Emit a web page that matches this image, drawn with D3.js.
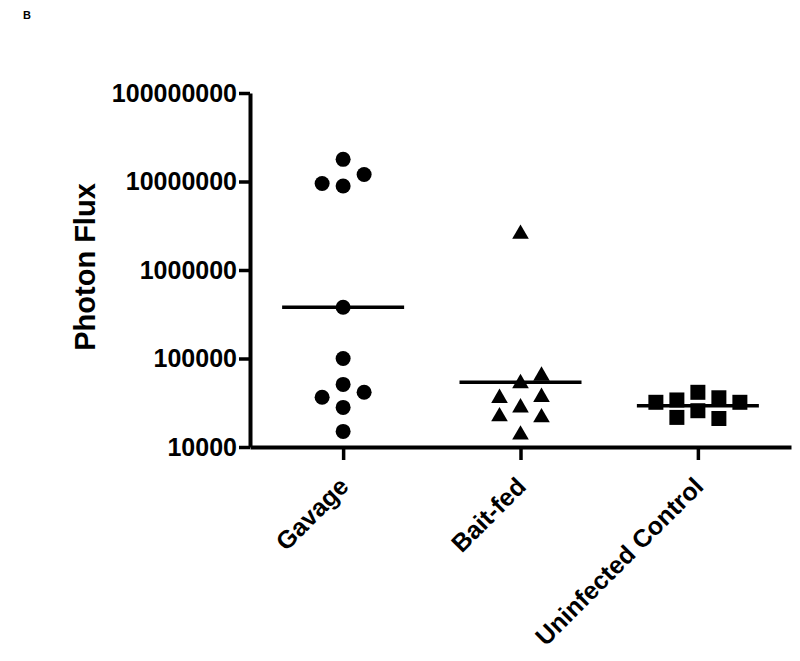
<!DOCTYPE html>
<html>
<head>
<meta charset="utf-8">
<script src="https://cdn.jsdelivr.net/npm/d3@7"></script>
<style>
  body { margin: 0; background: #fff; }
  svg { display: block; font-family: "Liberation Sans", Arial, sans-serif; font-weight: bold; }
</style>
</head>
<body>
<div id="chart"></div>
<script>
// groups on the x axis
const groups = ["Gavage", "Bait-fed", "Uninfected Control"];
const symbols = ["circle", "triangle", "square"];

// photon flux per animal
const gavage = [1.78e7, 1.2e7, 8.9e6, 9.5e6, 3.8e5, 1.0e5, 5.1e4, 4.15e4, 3.65e4, 2.8e4, 1.5e4];
const baitFed = [2.65e6, 5.45e4, 6.6e4, 3.8e4, 3.7e4, 2.9e4, 2.24e4, 2.3e4, 1.43e4];
const uninfected = [4.15e4, 3.6e4, 3.4e4, 3.2e4, 3.2e4, 2.57e4, 2.1e4, 2.16e4];

// horizontal line drawn through each group (geometric mean)
const centerLine = [3.8e5, 5.4e4, 2.93e4];

const yTicks = [1e4, 1e5, 1e6, 1e7, 1e8];

const series = [gavage, baitFed, uninfected];

const width = 800, height = 661;

const svg = d3.select("#chart")
  .append("svg")
  .attr("width", width)
  .attr("height", height);

const x = d3.scalePoint()
  .domain(groups)
  .range([250, 791])
  .padding(0.525);

const y = d3.scaleLog()
  .domain([1e4, 1e8])
  .range([447, 93]);

// panel letter
svg.append("text")
  .attr("x", 23)
  .attr("y", 19)
  .attr("font-size", 11)
  .text("B");

// y axis
const yAxis = svg.append("g")
  .attr("transform", "translate(250,0)")
  .call(d3.axisLeft(y).tickValues(yTicks).tickFormat(d3.format("d")).tickSize(11).tickSizeOuter(0).tickPadding(2));
yAxis.select(".domain").attr("stroke", "#000").attr("stroke-width", 4);
yAxis.selectAll(".tick line").attr("stroke", "#000").attr("stroke-width", 3.5);
yAxis.selectAll(".tick text")
  .attr("font-size", 25)
  .attr("font-family", "'Liberation Sans', Arial, sans-serif")
  .attr("font-weight", "bold")
  .attr("fill", "#000");

// x axis
const xAxis = svg.append("g")
  .attr("transform", "translate(0,447)")
  .call(d3.axisBottom(x).tickSize(13).tickSizeOuter(0).tickFormat(""));
xAxis.select(".domain").attr("stroke", "#000").attr("stroke-width", 4);
xAxis.selectAll(".tick line").attr("stroke", "#000").attr("stroke-width", 3.5);

// rotated category labels
svg.append("g")
  .selectAll("text")
  .data(groups)
  .join("text")
  .attr("transform", d => `translate(${x(d) + 7},488) rotate(-45)`)
  .attr("text-anchor", "end")
  .attr("font-size", 25)
  .text(d => d);

// y axis title
svg.append("text")
  .attr("transform", "translate(95,267) rotate(-90)")
  .attr("text-anchor", "middle")
  .attr("font-size", 29)
  .text("Photon Flux");

// spread points that would overlap into side slots, in data order
const slot = 21;
const minGap = 16;
function dodge(values) {
  const placed = [];
  const order = [0, 1, -1, 2, -2, 3, -3];
  values.forEach(v => {
    const py = y(v);
    for (const k of order) {
      const hit = placed.some(p => p.k === k && Math.abs(p.y - py) < minGap);
      if (!hit) { placed.push({ v, y: py, k }); break; }
    }
  });
  return placed;
}

const shapes = {
  circle: d3.symbol().type(d3.symbolCircle).size(Math.PI * 7.5 * 7.5),
  triangle: d3.symbol().type(d3.symbolTriangle).size(120),
  square: d3.symbol().type(d3.symbolSquare).size(15 * 15)
};

groups.forEach((g, i) => {
  const pts = dodge(series[i]);
  const cx = x(g);

  svg.append("line")
    .attr("x1", cx - 61)
    .attr("x2", cx + 61)
    .attr("y1", y(centerLine[i]))
    .attr("y2", y(centerLine[i]))
    .attr("stroke", "#000")
    .attr("stroke-width", 3.5);

  svg.append("g")
    .selectAll("path")
    .data(pts)
    .join("path")
    .attr("d", shapes[symbols[i]])
    .attr("transform", d => `translate(${cx + d.k * slot},${d.y + (symbols[i] === "triangle" ? 1.5 : 0)})`)
    .attr("fill", "#000");
});
</script>
</body>
</html>
